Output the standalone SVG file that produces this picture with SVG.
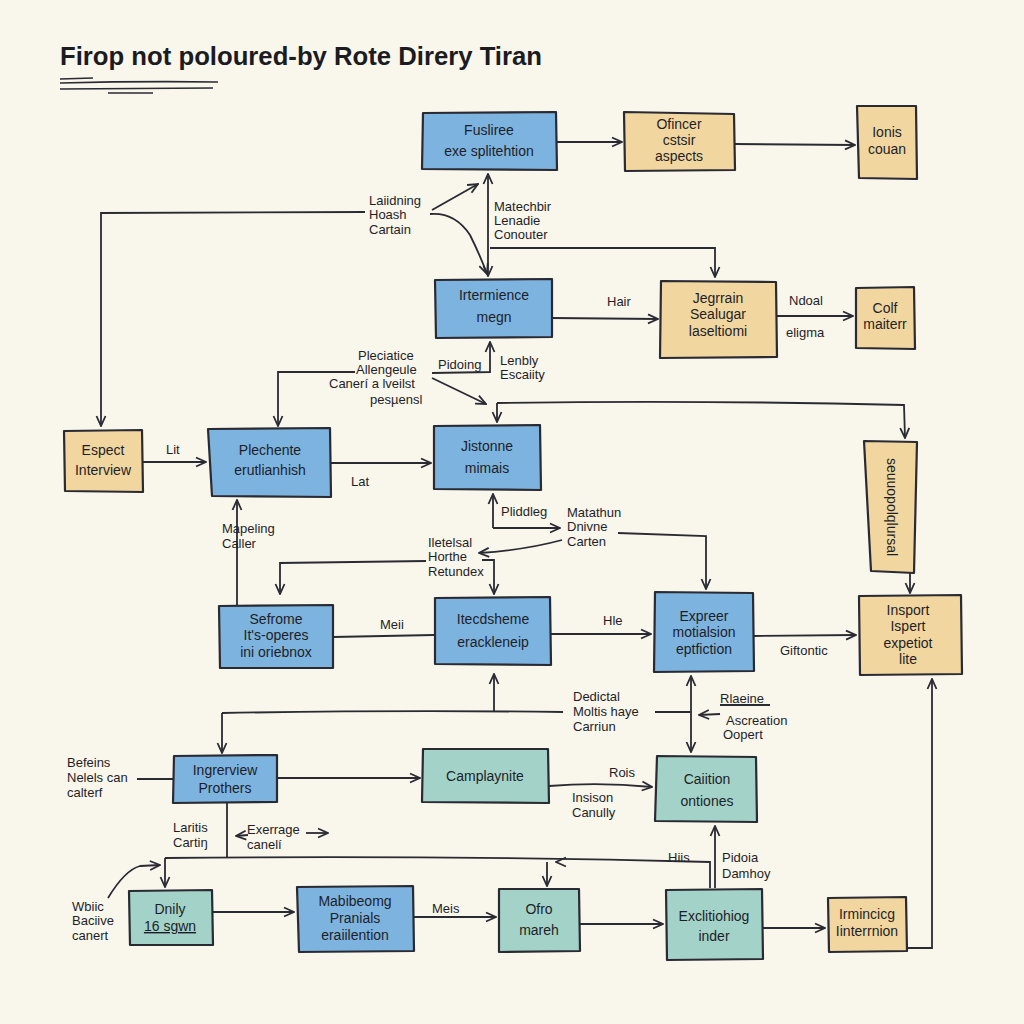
<svg xmlns="http://www.w3.org/2000/svg" width="1024" height="1024" viewBox="0 0 1024 1024">
<style>
.n{stroke:#2a2a33;stroke-width:2.2;stroke-linejoin:round}
.b{fill:#7db3df}.y{fill:#f1d79f}.t{fill:#a3d3c8}
.c{fill:none;stroke:#2a2a33;stroke-width:1.8}
.tx{font-family:"Liberation Sans",Arial,sans-serif;font-size:14px;fill:#1e1e28;text-anchor:middle}
.lb{font-family:"Liberation Sans",Arial,sans-serif;font-size:13px;fill:#1e1e28}
</style>
<defs>
<marker id="a" viewBox="0 0 12 12" refX="11" refY="6" markerWidth="12" markerHeight="12" orient="auto-start-reverse" markerUnits="userSpaceOnUse">
<path d="M1,1.5 L11,6 L1,10.5" fill="none" stroke="#2a2a33" stroke-width="1.8"/>
</marker>
</defs>
<rect width="1024" height="1024" fill="#f9f6ec"/>
<g id="title">
<text x="60" y="65" font-family="Liberation Sans,Arial,sans-serif" font-size="25" font-weight="bold" fill="#1b1b22" textLength="482" lengthAdjust="spacingAndGlyphs">Firop not poloured-by Rote Direry Tiran</text>
<path d="M60,79 L93,78 M60,83 Q140,81 218,82 M60,89 L213,88 M108,93 L153,93" stroke="#2a2a33" stroke-width="1.6" fill="none"/>
</g>
<g id="connectors">
<path class="c" d="M557,142 L622,142" marker-end="url(#a)"/>
<path class="c" d="M735,144 L855,145" marker-end="url(#a)"/>
<path class="c" d="M365,212 L101,213 L101,426" marker-end="url(#a)"/>
<path class="c" d="M432,210 L478,184" marker-end="url(#a)"/>
<path class="c" d="M430,214 Q455,212 470,235 Q480,255 487,274" marker-end="url(#a)"/>
<path class="c" d="M488,174 L488,276" marker-start="url(#a)" marker-end="url(#a)"/>
<path class="c" d="M490,248 L715,248 L715,277" marker-end="url(#a)"/>
<path class="c" d="M552,318 L658,319" marker-end="url(#a)"/>
<path class="c" d="M777,316 L853,316" marker-end="url(#a)"/>
<path class="c" d="M355,372 L278,372 L278,426" marker-end="url(#a)"/>
<path class="c" d="M432,373 L490,372 L490,342" marker-end="url(#a)"/>
<path class="c" d="M432,378 L486,404" marker-end="url(#a)"/>
<path class="c" d="M497,403 Q700,400 904,405 L905,438" marker-end="url(#a)"/>
<path class="c" d="M497,403 L497,422" marker-end="url(#a)"/>
<path class="c" d="M143,462 L206,462" marker-end="url(#a)"/>
<path class="c" d="M331,463 L431,463" marker-end="url(#a)"/>
<path class="c" d="M493,528 L493,494" marker-end="url(#a)"/>
<path class="c" d="M493,528 L560,528" marker-end="url(#a)"/>
<path class="c" d="M618,533 L706,536 L706,589" marker-end="url(#a)"/>
<path class="c" d="M562,540 Q525,550 479,553" marker-end="url(#a)"/>
<path class="c" d="M482,560 L494,560 L494,594" marker-end="url(#a)"/>
<path class="c" d="M426,561 L280,563 L280,594" marker-end="url(#a)"/>
<path class="c" d="M237,605 L237,500" marker-end="url(#a)"/>
<path class="c" d="M333,637 L434,635"/>
<path class="c" d="M551,634 L651,634" marker-end="url(#a)"/>
<path class="c" d="M754,636 L856,635" marker-end="url(#a)"/>
<path class="c" d="M910,573 L910,593" marker-end="url(#a)"/>
<path class="c" d="M907,948 L932,948 L932,679" marker-end="url(#a)"/>
<path class="c" d="M494,712 L494,674" marker-end="url(#a)"/>
<path class="c" d="M222,713 Q400,710 563,712"/>
<path class="c" d="M222,713 L222,753" marker-end="url(#a)"/>
<path class="c" d="M655,712 L690,712"/>
<path class="c" d="M691,676 L691,752" marker-start="url(#a)" marker-end="url(#a)"/>
<path class="c" d="M720,714 L699,715" marker-end="url(#a)"/>
<path class="c" d="M720,705 L770,705"/>
<path class="c" d="M137,779 L173,779"/>
<path class="c" d="M277,778 L420,778" marker-end="url(#a)"/>
<path class="c" d="M549,786 Q600,782 652,787" marker-end="url(#a)"/>
<path class="c" d="M227,803 L227,858"/>
<path class="c" d="M165,858 Q440,855 710,862 L710,888"/>
<path class="c" d="M558,862 L556,862" marker-end="url(#a)"/>
<path class="c" d="M547,862 L547,886" marker-end="url(#a)"/>
<path class="c" d="M165,858 L165,887" marker-end="url(#a)"/>
<path class="c" d="M108,898 Q125,870 140,866 L160,865" marker-end="url(#a)"/>
<path class="c" d="M715,888 L715,826" marker-end="url(#a)"/>
<path class="c" d="M248,835 L236,836" marker-end="url(#a)"/>
<path class="c" d="M306,833 L328,833" marker-end="url(#a)"/>
<path class="c" d="M212,912 L294,912" marker-end="url(#a)"/>
<path class="c" d="M414,917 L496,917" marker-end="url(#a)"/>
<path class="c" d="M580,924 L663,924" marker-end="url(#a)"/>
<path class="c" d="M763,928 L825,928" marker-end="url(#a)"/>
</g>
<g id="labels">
<text class="lb" x="369" y="205">Laiidning</text>
<text class="lb" x="369" y="219">Hoash</text>
<text class="lb" x="369" y="234">Cartain</text>
<text class="lb" x="494" y="211">Matechbir</text>
<text class="lb" x="494" y="225">Lenadie</text>
<text class="lb" x="494" y="239">Conouter</text>
<text class="lb" x="607" y="306">Hair</text>
<text class="lb" x="789" y="305">Ndoal</text>
<text class="lb" x="786" y="337">eligma</text>
<text class="lb" x="358" y="360">Pleciatice</text>
<text class="lb" x="356" y="374">Allengeule</text>
<text class="lb" x="329" y="388">Canerí a lveilst</text>
<text class="lb" x="370" y="404">pesµensl</text>
<text class="lb" x="438" y="369">Pidoing</text>
<text class="lb" x="500" y="365">Lenbly</text>
<text class="lb" x="500" y="379">Escaiity</text>
<text class="lb" x="166" y="454">Lit</text>
<text class="lb" x="351" y="486">Lat</text>
<text class="lb" x="501" y="516">Pliddleg</text>
<text class="lb" x="567" y="517">Matathun</text>
<text class="lb" x="567" y="531">Dnivne</text>
<text class="lb" x="567" y="546">Carten</text>
<text class="lb" x="428" y="547">Iletelsal</text>
<text class="lb" x="428" y="561">Horthe</text>
<text class="lb" x="428" y="576">Retundex</text>
<text class="lb" x="222" y="533">Mapeling</text>
<text class="lb" x="222" y="548">Caller</text>
<text class="lb" x="380" y="629">Meii</text>
<text class="lb" x="603" y="625">Hle</text>
<text class="lb" x="780" y="655">Giftontic</text>
<text class="lb" x="573" y="701">Dedictal</text>
<text class="lb" x="573" y="716">Moltis haye</text>
<text class="lb" x="573" y="731">Carriun</text>
<text class="lb" x="720" y="703">Rlaeine</text>
<text class="lb" x="726" y="725">Ascreation</text>
<text class="lb" x="723" y="739">Oopert</text>
<text class="lb" x="67" y="767">Befeins</text>
<text class="lb" x="67" y="782">Nelels can</text>
<text class="lb" x="67" y="797">calterf</text>
<text class="lb" x="173" y="832">Laritis</text>
<text class="lb" x="173" y="847">Cartiŋ</text>
<text class="lb" x="247" y="834">Exerrage</text>
<text class="lb" x="247" y="849">canelí</text>
<text class="lb" x="609" y="777">Rois</text>
<text class="lb" x="572" y="802">Insison</text>
<text class="lb" x="572" y="817">Canully</text>
<text class="lb" x="668" y="862">Hiis</text>
<text class="lb" x="722" y="862">Pidoia</text>
<text class="lb" x="722" y="878">Damhoy</text>
<text class="lb" x="72" y="911">Wbiic</text>
<text class="lb" x="72" y="925">Baciive</text>
<text class="lb" x="72" y="940">canert</text>
<text class="lb" x="432" y="913">Meis</text>
</g>
<g id="n1"><path class="n b" d="M423,113 L556,112 L557,170 L422,169 Z"/><text class="tx" x="489" y="135">Fusliree</text><text class="tx" x="489" y="156">exe splitehtion</text></g>
<g id="n2"><path class="n y" d="M624,112 L734,114 L735,170 L625,171 Z"/><text class="tx" x="679" y="129">Ofincer</text><text class="tx" x="679" y="145">cstsir</text><text class="tx" x="679" y="161">aspects</text></g>
<g id="n3"><path class="n y" d="M857,106 L916,106 L917,179 L859,178 Z"/><text class="tx" x="887" y="137">Ionis</text><text class="tx" x="887" y="154">couan</text></g>
<g id="n4"><path class="n b" d="M435,280 L552,279 L552,337 L436,338 Z"/><text class="tx" x="494" y="300">Irtermience</text><text class="tx" x="494" y="322">megn</text></g>
<g id="n5"><path class="n y" d="M661,281 L776,282 L777,357 L660,358 Z"/><text class="tx" x="718" y="303">Jegrrain</text><text class="tx" x="718" y="319">Sealugar</text><text class="tx" x="718" y="336">laseltiomi</text></g>
<g id="n6"><path class="n y" d="M856,288 L914,287 L915,349 L856,348 Z"/><text class="tx" x="885" y="313">Colf</text><text class="tx" x="885" y="329">maiterr</text></g>
<g id="n7"><path class="n y" d="M64,431 L142,430 L143,492 L65,491 Z"/><text class="tx" x="103" y="455">Espect</text><text class="tx" x="103" y="475">Interview</text></g>
<g id="n8"><path class="n b" d="M208,429 L330,428 L331,497 L212,496 Z"/><text class="tx" x="270" y="455">Plechente</text><text class="tx" x="270" y="475">erutlianhish</text></g>
<g id="n9"><path class="n b" d="M434,426 L540,425 L541,490 L434,489 Z"/><text class="tx" x="487" y="451">Jistonne</text><text class="tx" x="487" y="473">mimais</text></g>
<g id="n10"><path class="n y" d="M864,441 L917,442 L914,573 L871,571 Z"/><text class="tx" x="0" y="0" font-size="11" transform="translate(887,507) rotate(90)">seuuopolqlursal</text></g>
<g id="n11"><path class="n b" d="M219,606 L333,605 L333,668 L220,668 Z"/><text class="tx" x="276" y="624">Sefrome</text><text class="tx" x="276" y="640">It's-operes</text><text class="tx" x="276" y="657">ini oriebnox</text></g>
<g id="n12"><path class="n b" d="M435,598 L550,597 L551,665 L435,664 Z"/><text class="tx" x="493" y="624">Itecdsheme</text><text class="tx" x="493" y="647">erackleneip</text></g>
<g id="n13"><path class="n b" d="M655,592 L753,593 L754,671 L654,672 Z"/><text class="tx" x="704" y="621">Expreer</text><text class="tx" x="704" y="637">motialsion</text><text class="tx" x="704" y="654">eptfiction</text></g>
<g id="n14"><path class="n y" d="M859,596 L961,595 L962,674 L860,675 Z"/><text class="tx" x="908" y="615">Insport</text><text class="tx" x="908" y="631">Ispert</text><text class="tx" x="908" y="648">expetiot</text><text class="tx" x="908" y="664">lite</text></g>
<g id="n15"><path class="n b" d="M174,756 L277,755 L277,802 L173,803 Z"/><text class="tx" x="225" y="775">Ingrerview</text><text class="tx" x="225" y="793">Prothers</text></g>
<g id="n16"><path class="n t" d="M423,749 L548,749 L549,803 L422,802 Z"/><text class="tx" x="485" y="781">Camplaynite</text></g>
<g id="n17"><path class="n t" d="M657,756 L756,757 L757,822 L655,821 Z"/><text class="tx" x="707" y="784">Caiition</text><text class="tx" x="707" y="806">ontiones</text></g>
<g id="n18"><path class="n t" d="M129,891 L212,890 L213,945 L130,945 Z"/><text class="tx" x="170" y="914">Dnily</text><text class="tx" x="170" y="931" text-decoration="underline">16 sgwn</text></g>
<g id="n19"><path class="n b" d="M297,887 L413,886 L414,951 L299,952 Z"/><text class="tx" x="355" y="906">Mabibeomg</text><text class="tx" x="355" y="923">Pranials</text><text class="tx" x="355" y="940">eraiilention</text></g>
<g id="n20"><path class="n t" d="M499,889 L579,889 L580,951 L499,952 Z"/><text class="tx" x="539" y="914">Ofro</text><text class="tx" x="539" y="935">mareh</text></g>
<g id="n21"><path class="n t" d="M666,890 L762,889 L763,959 L667,960 Z"/><text class="tx" x="714" y="921">Exclitiohiog</text><text class="tx" x="714" y="941">inder</text></g>
<g id="n22"><path class="n y" d="M828,898 L906,897 L907,951 L829,952 Z"/><text class="tx" x="867" y="919">Irmincicg</text><text class="tx" x="867" y="936">Iinterrnion</text></g>
</svg>
